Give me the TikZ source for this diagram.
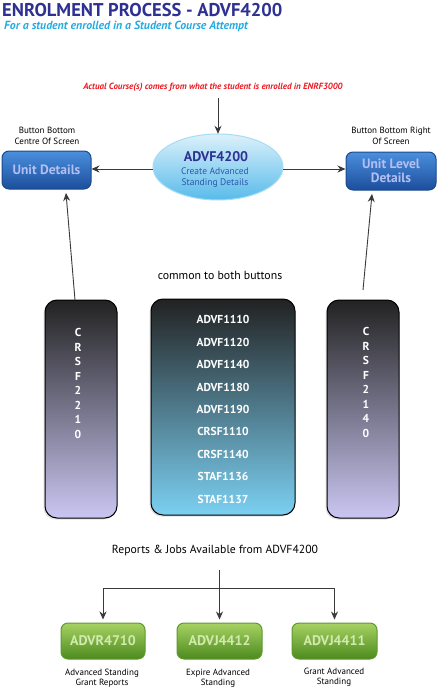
\documentclass[tikz,border=0pt]{standalone}
\usepackage{fontspec}
\setmainfont{PT Sans}
\usetikzlibrary{arrows.meta,shadows,calc}
\definecolor{titleblue}{HTML}{2E3192}
\definecolor{subblue}{HTML}{29ABE2}
\definecolor{redtxt}{HTML}{ED1C24}
\definecolor{arrowgrey}{HTML}{3A3A3A}
\definecolor{btntop}{HTML}{4A8FDD}
\definecolor{btnbot}{HTML}{1C4E9C}
\definecolor{btnedge}{HTML}{1A4A90}
\definecolor{btntext}{HTML}{B3BFF2}
\definecolor{grtop}{HTML}{A6D263}
\definecolor{grbot}{HTML}{4C8A1E}
\definecolor{gredge}{HTML}{5E9A2E}
\definecolor{grtext}{HTML}{D2EAAE}
\definecolor{darktop}{HTML}{222222}
\definecolor{lavbot}{HTML}{CAC6F2}
\definecolor{midteal}{HTML}{34434E}
\definecolor{skybot}{HTML}{7BD0F2}
\definecolor{elltop}{HTML}{DCF1FB}
\definecolor{ellbot}{HTML}{58BBEA}
\definecolor{elledge}{HTML}{A7DCF5}
\tikzset{
  arr/.style={draw=arrowgrey,line width=0.9pt,-{Stealth[length=8pt,width=7pt]}},
  bluebtn/.style={draw=btnedge,line width=1pt,rounded corners=7pt,top color=btntop,bottom color=btnbot,
     text=btntext,font=\bfseries\fontsize{13.5}{14.5}\selectfont,align=center,inner sep=0pt},
  greenbtn/.style={draw=gredge,line width=1pt,rounded corners=7pt,top color=grtop,bottom color=grbot,
     text=grtext,font=\bfseries\fontsize{14}{15}\selectfont,align=center,inner sep=0pt},
  tallbox/.style={draw=black,line width=1pt,rounded corners=12pt,top color=darktop,bottom color=lavbot,
     drop shadow={opacity=0.25,shadow xshift=-1.5pt,shadow yshift=-1.5pt},inner sep=0pt},
  smalllbl/.style={font=\fontsize{9}{10.5}\selectfont,align=center,text=black},
  boxtxt/.style={text=white,font=\bfseries\fontsize{11.5}{14.5}\selectfont,align=center,anchor=north},
  listtxt/.style={text=white,font=\bfseries\fontsize{11.5}{22.4}\selectfont,align=center},
}
\begin{document}
\begin{tikzpicture}[x=1pt,y=-1pt]
\useasboundingbox[fill=white] (0,0) rectangle (437,688);
% titles
\node[anchor=west,inner sep=0pt,text=titleblue,font=\bfseries\fontsize{18.5}{20}\selectfont] (title) at (2,10.5) {ENROLMENT PROCESS - ADVF4200};
\node[anchor=west,inner sep=0pt,text=subblue,font=\bfseries\itshape\fontsize{11.8}{13}\selectfont] (subtitle) at (4,26.5) {For a student enrolled in a Student Course Attempt};
\node[inner sep=0pt,text=redtxt,font=\bfseries\itshape\fontsize{9}{10}\selectfont] (red) at (213,87) {Actual Course(s) comes from what the student is enrolled in ENRF3000};
% ellipse
\path[draw=elledge,line width=1pt,top color=elltop,bottom color=ellbot] (218,167) ellipse (65 and 33);
\node[inner sep=0pt,minimum width=130pt,minimum height=66pt] (ell) at (218,167) {};
\node[text=titleblue,font=\bfseries\fontsize{14}{15}\selectfont] (ellt) at (216,157) {ADVF4200};
\node[text=titleblue!70!subblue,font=\fontsize{9.5}{10.5}\selectfont,align=center] (ells) at (215,177.5) {Create Advanced\\Standing Details};
% blue buttons
\node[bluebtn,minimum width=89pt,minimum height=38pt] (lbtn) at (46.5,170) {Unit Details};
\node[bluebtn,minimum width=90pt,minimum height=38pt] (rbtn) at (391,171) {Unit Level\\Details};
\node[smalllbl] (llbl) at (47,136) {Button Bottom\\Centre Of Screen};
\node[smalllbl] (rlbl) at (391,136) {Button Bottom Right\\Of Screen};
% arrows top
\coordinate (redarr) at (218,98);
\draw[arr] (redarr) -- (ell.north);
\draw[arr] (153,169) -- (lbtn.east |- 0,169);
\draw[arr] (283,169) -- (rbtn.west |- 0,169);
% common text
\node[font=\fontsize{11.8}{13}\selectfont] (common) at (220,275) {common to both buttons};
% tall boxes
\node[tallbox,minimum width=72pt,minimum height=218pt] (lbox) at (81,409) {};
\node[tallbox,minimum width=144pt,minimum height=216pt,top color=darktop,middle color=midteal,bottom color=skybot] (cbox) at (223,407) {};
\node[tallbox,minimum width=72pt,minimum height=218pt] (rbox) at (363,409) {};
\node[boxtxt] (ltxt) at (78,325) {C\\R\\S\\F\\2\\2\\1\\0};
\node[boxtxt] (rtxt) at (366,324) {C\\R\\S\\F\\2\\1\\4\\0};
\node[listtxt] (ctxt) at (223,409.5) {ADVF1110\\ADVF1120\\ADVF1140\\ADVF1180\\ADVF1190\\CRSF1110\\CRSF1140\\STAF1136\\STAF1137};
% slanted arrows
\coordinate (lfrom) at (75,300);
\coordinate (lto) at (66,193);
\coordinate (rfrom) at (363,290);
\coordinate (rto) at (372,194);
\draw[arr] (lfrom) -- (lto);
\draw[arr] (rfrom) -- (rto);
% reports
\node[font=\fontsize{11.7}{13}\selectfont] (reports) at (215,550) {Reports \& Jobs Available from ADVF4200};
\node[greenbtn,minimum width=84pt,minimum height=36pt] (g1) at (103,641) {ADVR4710};
\node[greenbtn,minimum width=85pt,minimum height=36pt] (g2) at (219.5,641) {ADVJ4412};
\node[greenbtn,minimum width=85pt,minimum height=36pt] (g3) at (334.5,641) {ADVJ4411};
\coordinate (rtop) at (219.5,570);
\coordinate (hy) at (219.5,588);
\draw[arr,shorten >=3pt] (rtop) -- (g2.north);
\draw[arr,shorten >=3pt] (hy) -| (g1.north);
\draw[arr,shorten >=3pt] (hy) -| (g3.north);
\node[smalllbl] (l1) at (102,678) {Advanced Standing\\Grant Reports};
\node[smalllbl] (l2) at (218,678) {Expire Advanced\\Standing};
\node[smalllbl] (l3) at (334,677) {Grant Advanced\\Standing};
\end{tikzpicture}
\end{document}
